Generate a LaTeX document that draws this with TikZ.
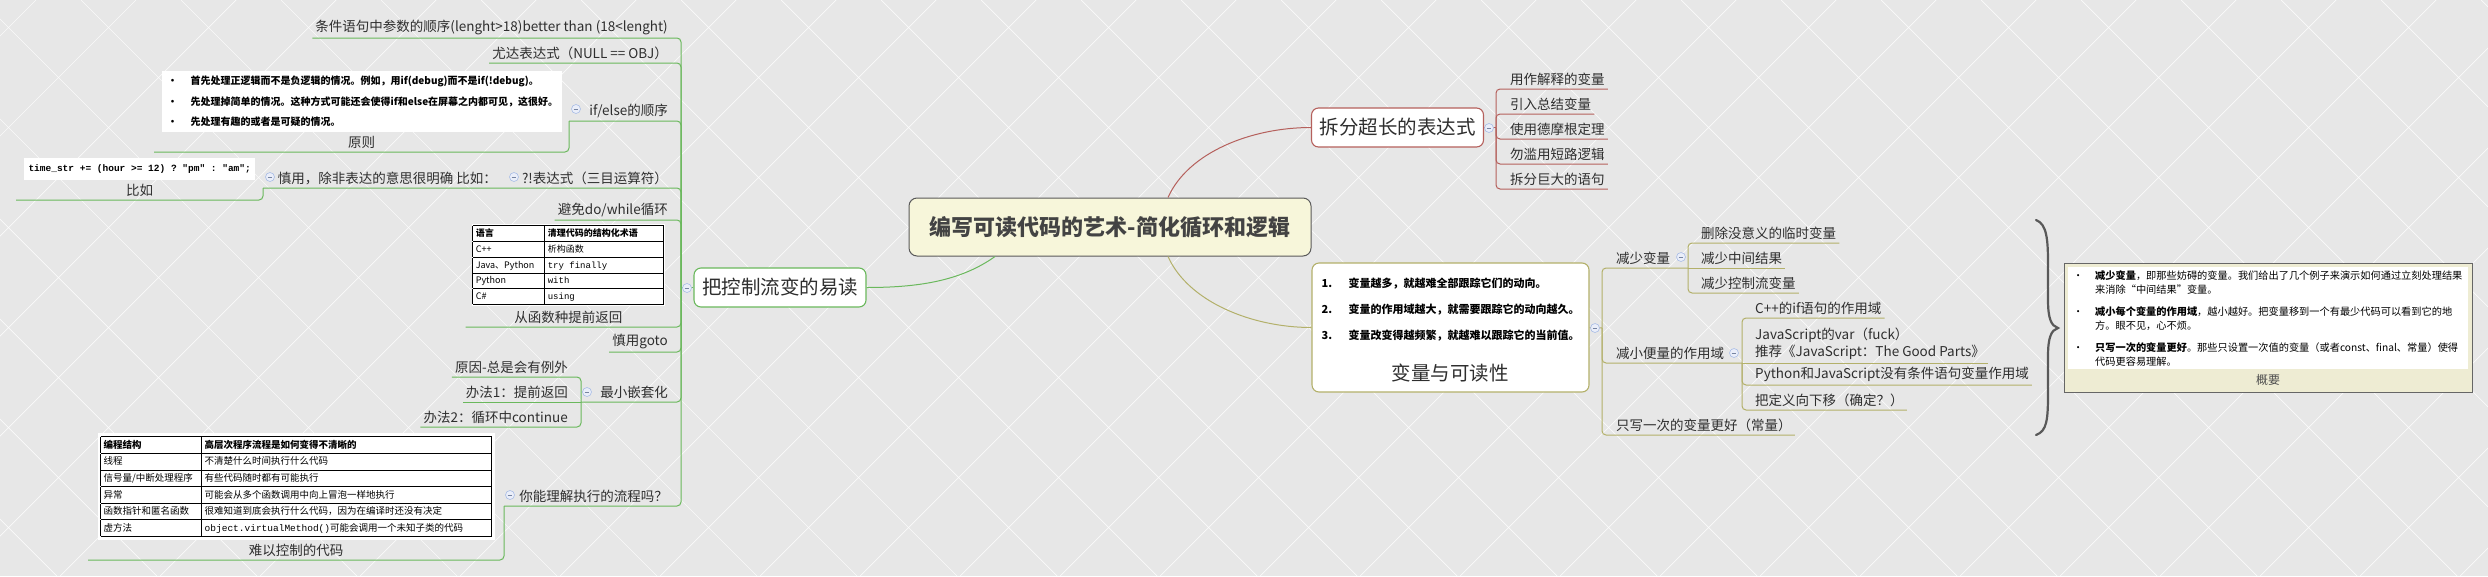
\documentclass[tikz,border=0pt]{standalone}
\usepackage{fontspec}
\setmainfont{Noto Sans CJK SC}
\setmonofont{Liberation Mono}
\usepackage{tikz}
\usetikzlibrary{positioning}
\definecolor{ink}{HTML}{2E2E2E}
\definecolor{leafgreen}{HTML}{6AB85C}
\definecolor{brick}{HTML}{B5605C}
\definecolor{olive}{HTML}{B3B06A}
\definecolor{paper}{HTML}{E7E7E7}
\definecolor{cream}{HTML}{F7F6DA}
\definecolor{foldblue}{HTML}{A9BCE6}
\definecolor{summ}{HTML}{EEECD3}
\newcommand\fsleaf{\fontsize{13.5}{17}\selectfont}
\newcommand\fsbranch{\fontsize{19.5}{22}\selectfont}
\setlength{\tabcolsep}{3pt}
\setlength{\arrayrulewidth}{0.8pt}

\begin{document}
\begin{tikzpicture}[x=1pt,y=-1pt,
  bgline/.style={draw=white,line width=0.7pt,opacity=0.8},
  leaf/.style={font=\fsleaf,text=ink,inner xsep=3pt,inner ysep=3pt},
  topic/.style={draw,rounded corners=7pt,fill=white,line width=1.1pt,font=\fsbranch,text=ink,minimum height=39pt,inner xsep=8pt},
  fold/.style={circle,draw=foldblue,fill=foldblue!25,line width=0.6pt,minimum size=9pt,inner sep=0pt,
    path picture={\draw[foldblue!70!black,line width=0.8pt] ([xshift=-2.3pt]path picture bounding box.center) -- ([xshift=2.3pt]path picture bounding box.center);}},
  gline/.style={draw=leafgreen,line width=1pt,rounded corners=4pt},
  rline/.style={draw=brick,line width=1pt,rounded corners=4pt},
  oline/.style={draw=olive,line width=1pt,rounded corners=4pt},
  shot/.style={fill=white,inner sep=1pt},
  brace/.style={draw=gray!70!black,line width=2.2pt,line cap=round}]
\useasboundingbox (0,0) rectangle (2488,576);
\fill[paper] (0,0) rectangle (2488,576);
\begin{scope}
\clip (0,0) rectangle (2488,576);
\foreach \ka in {-519,-419,...,2481} \draw[bgline] (\ka,0) -- (\ka+576,576);
\foreach \kb in {36,136,...,3036} \draw[bgline] (\kb,0) -- (\kb-576,576);
\end{scope}

\node[draw=gray!70!black,fill=cream,rounded corners=8pt,line width=1pt,minimum width=402pt,minimum height=58pt,font=\fontsize{22}{26}\selectfont\bfseries,text=ink!90] (root) at (1110,227) {编写可读代码的艺术-简化循环和逻辑};

\node[topic,draw=leafgreen] (flow) at (780,287.5) {把控制流变的易读};
\node[topic,draw=brick] (split) at (1397.5,127.5) {拆分超长的表达式};
\node[draw=olive,fill=white,rounded corners=7pt,line width=1.1pt,minimum width=277pt,minimum height=129pt] (vars) at (1450.5,327.5) {};
\node[font=\fontsize{11}{26}\selectfont\bfseries,text=black,align=left,anchor=west] (varlist) at (1318,310) {\makebox[27pt][l]{1.}变量越多，就越难全部跟踪它们的动向。\\\makebox[27pt][l]{2.}变量的作用域越大，就需要跟踪它的动向越久。\\\makebox[27pt][l]{3.}变量改变得越频繁，就越难以跟踪它的当前值。};
\node[font=\fsbranch,text=ink] (vartitle) at (1450,373) {变量与可读性};

\draw[gline] (flow.east) .. controls +(50,0) and +(-35,25) .. ([xshift=-115pt]root.south);
\draw[rline] ([xshift=58pt]root.north) .. controls +(20,-45) and +(-60,0) .. (split.west);
\draw[oline] ([xshift=58pt]root.south) .. controls +(20,45) and +(-60,0) .. (vars.west);

\node[leaf,anchor=south east] (cond) at (671,38) {条件语句中参数的顺序(lenght>18)better than (18<lenght)};
\node[leaf,anchor=south east] (yoda) at (671,63) {尤达表达式（NULL == OBJ）};
\node[leaf,anchor=south east] (ifelse) at (671,121) {if/else的顺序};
\node[leaf,anchor=south east] (ternary) at (671,188) {?!表达式（三目运算符）};
\node[leaf,anchor=south east] (caution) at (500,188) {慎用，除非表达的意思很明确 比如：};
\node[leaf,anchor=south east] (dowhile) at (671,220) {避免do/while循环};
\node[leaf,anchor=south east,minimum width=205pt] (early) at (671,327) {从函数种提前返回};
\node[leaf,anchor=south east] (goto) at (671,352) {慎用goto};
\node[leaf,anchor=south east] (nest) at (671,402) {最小嵌套化};
\node[leaf,anchor=south east] (reason) at (571,377) {原因-总是会有例外};
\node[leaf,anchor=south east] (way1) at (571,402) {办法1：提前返回};
\node[leaf,anchor=south east] (way2) at (571,427) {办法2：循环中continue};
\node[leaf,anchor=south east] (flowq) at (671,506) {你能理解执行的流程吗？};
\node[leaf,anchor=south west,minimum width=415pt] (rule) at (154,152) {原则};
\node[leaf,anchor=south west,minimum width=247pt] (biru) at (16,200) {比如};
\node[leaf,anchor=south west,minimum width=416pt] (hard) at (88,560) {难以控制的代码};

\node[shot,above=1pt of rule,text width=388pt,inner xsep=6pt,inner ysep=5pt,align=left,font=\fontsize{10}{20.5}\selectfont\bfseries] (rulepic) {\makebox[23pt][l]{•}首先处理正逻辑而不是负逻辑的情况。例如，用if(debug)而不是if(!debug)。\\\makebox[23pt][l]{•}先处理掉简单的情况。这种方式可能还会使得if和else在屏幕之内都可见，这很好。\\\makebox[23pt][l]{•}先处理有趣的或者是可疑的情况。};
\node[shot,above=1pt of biru,minimum width=231pt,minimum height=22pt,font=\ttfamily\bfseries\fontsize{9.5}{11}\selectfont] (codepic) {time\_str += (hour >= 12) ? "pm" : "am";};
\node[shot,above=2pt of early] (tab1) {\fontsize{9}{11}\selectfont\renewcommand\arraystretch{1.36}\begin{tabular}{|p{66pt}|p{113pt}|}\hline
\textbf{语言} & \textbf{清理代码的结构化术语}\\\hline
C++ & 析构函数\\\hline
Java、Python & \texttt{try finally}\\\hline
Python & \texttt{with}\\\hline
C\# & \texttt{using}\\\hline
\end{tabular}};
\node[shot,above=1pt of hard,inner sep=3pt] (tab2) {\fontsize{9.5}{11.5}\selectfont\renewcommand\arraystretch{1.375}\begin{tabular}{|p{95pt}|p{284pt}|}\hline
\textbf{编程结构} & \textbf{高层次程序流程是如何变得不清晰的}\\\hline
线程 & 不清楚什么时间执行什么代码\\\hline
信号量/中断处理程序 & 有些代码随时都有可能执行\\\hline
异常 & 可能会从多个函数调用中向上冒泡一样地执行\\\hline
函数指针和匿名函数 & 很难知道到底会执行什么代码，因为在编译时还没有决定\\\hline
虚方法 & \texttt{object.virtualMethod()}可能会调用一个未知子类的代码\\\hline
\end{tabular}};

\coordinate (ltrunk) at (681,287.5);
\coordinate (ifork) at (569,121);
\coordinate (terfork) at (263,188);
\coordinate (nestfork) at (581,402);
\coordinate (qfork) at (504,506);
\draw[gline] (flow.west) -- (ltrunk);
\draw[gline] (ltrunk) |- (cond.south west);
\draw[gline] (ltrunk) |- (yoda.south west);
\draw[gline] (ltrunk) |- (ifork);
\draw[gline] (ifork) |- (rule.south west);
\draw[gline] (ltrunk) |- (terfork);
\draw[gline] (terfork) |- (biru.south west);
\draw[gline] (ltrunk) |- (dowhile.south west);
\draw[gline] (ltrunk) |- (early.south west);
\draw[gline] (ltrunk) |- (goto.south west);
\draw[gline] (ltrunk) |- (nestfork);
\draw[gline] (nestfork) |- (reason.south west);
\draw[gline] (nestfork) -- (way1.south west);
\draw[gline] (nestfork) |- (way2.south west);
\draw[gline] (ltrunk) |- (qfork);
\draw[gline] (qfork) |- (hard.south west);

\node[leaf,anchor=south west] (explain) at (1507,89) {用作解释的变量};
\node[leaf,anchor=south west] (summvar) at (1507,114) {引入总结变量};
\node[leaf,anchor=south west] (demorgan) at (1507,139) {使用德摩根定理};
\node[leaf,anchor=south west] (shortc) at (1507,164) {勿滥用短路逻辑};
\node[leaf,anchor=south west] (bigstmt) at (1507,189) {拆分巨大的语句};
\coordinate (splitfork) at (1496,127.5);
\draw[rline] (split.east) -- (splitfork);
\foreach \nd in {explain,summvar,demorgan,shortc,bigstmt}
  \draw[rline] (splitfork) |- (\nd.south east);

\node[leaf,anchor=south west] (less) at (1613,268) {减少变量};
\node[leaf,anchor=south west] (tmp) at (1698,243) {删除没意义的临时变量};
\node[leaf,anchor=south west] (mid) at (1698,268) {减少中间结果};
\node[leaf,anchor=south west] (ctl) at (1698,293) {减少控制流变量};
\node[leaf,anchor=south west] (scope) at (1613,363) {减小便量的作用域};
\node[leaf,anchor=south west] (cppif) at (1752,318) {C++的if语句的作用域};
\node[leaf,anchor=south west,align=left] (jsvar) at (1752,363) {JavaScript的var（fuck）\\推荐《JavaScript：The Good Parts》};
\node[leaf,anchor=south west] (pyjs) at (1752,385) {Python和JavaScript没有条件语句变量作用域};
\node[leaf,anchor=south west] (movedef) at (1752,410) {把定义向下移（确定？）};
\node[leaf,anchor=south west] (once) at (1613,435) {只写一次的变量更好（常量）};
\coordinate (varfork) at (1602,328);
\coordinate (lessfork) at (1688,268);
\coordinate (scopefork) at (1742,363);
\draw[oline] (vars.east) -- (varfork);
\draw[oline] (varfork) |- (lessfork);
\draw[oline] (varfork) |- (scopefork);
\draw[oline] (varfork) |- (once.south east);
\draw[oline] (lessfork) |- (tmp.south east);
\draw[oline] (lessfork) -- (mid.south east);
\draw[oline] (lessfork) |- (ctl.south east);
\draw[oline] (scopefork) |- (cppif.south east);
\draw[oline] (scopefork) -- (jsvar.south east);
\draw[oline] (scopefork) |- (pyjs.south east);
\draw[oline] (scopefork) |- (movedef.south east);

\node[fold] (flowfold) at (687,288) {};
\node[fold] (ifold) at (576,109) {};
\node[fold] (terfold) at (514,177) {};
\node[fold] (caufold) at (270,177) {};
\node[fold] (nestfold) at (587,392) {};
\node[fold] (qfold) at (510,495) {};
\node[fold] (splitfold) at (1489,128) {};
\node[fold] (varfold) at (1595,328) {};
\node[fold] (lessfold) at (1681,257) {};
\node[fold] (scopefold) at (1734,353) {};

\draw[brace] (2036,220) .. controls (2047,224) and (2048,240) .. (2048,265) -- (2048,300) .. controls (2048,318) and (2051,326) .. (2058,328) .. controls (2051,330) and (2048,338) .. (2048,356) -- (2048,392) .. controls (2048,420) and (2047,431) .. (2036,435);
\node[draw=gray!80!black,fill=summ,line width=0.8pt,minimum width=408pt,minimum height=129pt,inner sep=0pt] (sumbox) at (2268,327.5) {};
\node[fill=white,anchor=north west,text width=390pt,inner xsep=5pt,inner ysep=3pt,align=left,font=\fontsize{10.2}{14}\selectfont] (sumtext) at (2068,267) {\makebox[22pt][l]{•}\textbf{减少变量}，即那些妨碍的变量。我们给出了几个例子来演示如何通过立刻处理结果\\\hspace*{22pt}来消除“中间结果”变量。\\[8pt]\makebox[22pt][l]{•}\textbf{减小每个变量的作用域}，越小越好。把变量移到一个有最少代码可以看到它的地\\\hspace*{22pt}方。眼不见，心不烦。\\[8pt]\makebox[22pt][l]{•}\textbf{只写一次的变量更好}。那些只设置一次值的变量（或者const、final、常量）使得\\\hspace*{22pt}代码更容易理解。};
\node[font=\fontsize{12}{14}\selectfont,text=gray!60!black] (sumtag) at (2268,380) {概要};
\end{tikzpicture}
\end{document}
